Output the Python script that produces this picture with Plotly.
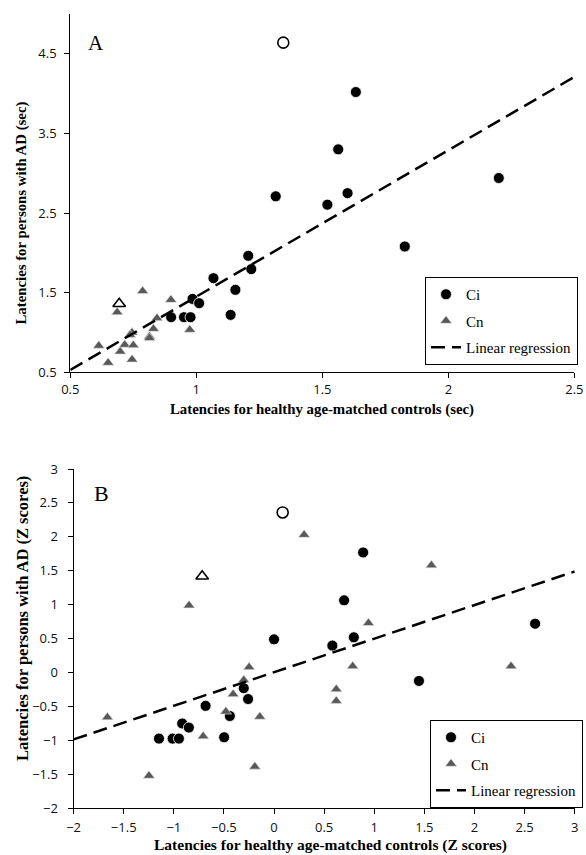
import plotly.graph_objects as go

# ---------------- Panel A (sec) ----------------
a_ci_x = [1.633, 1.563, 2.20, 1.60, 1.315, 1.52, 1.827, 1.206, 1.218, 1.068,
          1.155, 0.985, 1.011, 1.136, 0.90, 0.951, 0.977]
a_ci_y = [4.02, 3.30, 2.94, 2.75, 2.71, 2.605, 2.08, 1.963, 1.796, 1.682,
          1.536, 1.422, 1.368, 1.221, 1.192, 1.192, 1.192]
a_cn_x = [0.787, 0.899, 0.686, 0.844, 0.974, 0.83, 0.814, 0.814, 0.745, 0.737,
          0.613, 0.716, 0.75, 0.698, 0.745, 0.65]
a_cn_y = [1.52, 1.41, 1.255, 1.18, 1.034, 1.046, 0.95, 0.93, 1.0, 0.97,
          0.834, 0.846, 0.84, 0.76, 0.66, 0.62]
a_out_circle = ([1.345], [4.64])
a_out_triangle = ([0.694], [1.36])
a_reg_x = [0.5, 2.5]
a_reg_y = [0.53, 4.21]
a_xticks = [0.5, 1, 1.5, 2, 2.5]
a_yticks = [0.5, 1.5, 2.5, 3.5, 4.5]

# ---------------- Panel B (Z scores) ----------------
b_ci_x = [0.889, 0.699, 2.605, 0.796, 0.0, 0.582, 1.446, -0.302, -0.259, -0.683,
          -0.441, -0.916, -0.85, -1.148, -1.012, -0.949, -0.498]
b_ci_y = [1.77, 1.065, 0.72, 0.52, 0.49, 0.398, -0.123, -0.23, -0.39, -0.49,
          -0.64, -0.75, -0.81, -0.973, -0.973, -0.973, -0.953]
b_cn_x = [0.30, 1.57, -0.848, 0.942, -0.249, 0.785, 2.365, -0.302, -0.408, -0.481,
          -0.142, -1.663, -0.707, -0.192, -1.248, 0.621, 0.621]
b_cn_y = [2.03, 1.58, 0.99, 0.73, 0.08, 0.094, 0.094, -0.11, -0.318, -0.575,
          -0.65, -0.66, -0.94, -1.386, -1.52, -0.245, -0.417]
b_out_circle = ([0.086], [2.36])
b_out_triangle = ([-0.717], [1.42])
b_reg_x = [-2, 3]
b_reg_y = [-0.985, 1.49]
b_ticks = [-2, -1.5, -1, -0.5, 0, 0.5, 1, 1.5, 2, 2.5, 3]

W, H = 586, 855
SERIF = "Liberation Serif"
SANS = "Open Sans"
GRAY = "#595959"
DASH = "14px,7px"


def px(x):
    return x / W


def py(y):
    return 1 - y / H


fig = go.Figure()


def add_panel(xa, ya, legend, ci, cn, oc, ot, reg, csize, tsize):
    fig.add_trace(go.Scatter(
        x=ci[0], y=ci[1], mode="markers", name="Ci", xaxis=xa, yaxis=ya,
        legend=legend, legendgroup=legend + "ci",
        marker=dict(symbol="circle", size=csize, color="black",
                    line=dict(color="white", width=0.8))))
    fig.add_trace(go.Scatter(
        x=cn[0], y=cn[1], mode="markers", name="Cn", xaxis=xa, yaxis=ya,
        legend=legend, legendgroup=legend + "cn",
        marker=dict(symbol="triangle-up", size=tsize, color=GRAY,
                    line=dict(color="#e8e8e8", width=0.6))))
    fig.add_trace(go.Scatter(
        x=reg[0], y=reg[1], mode="lines", name="Linear regression",
        xaxis=xa, yaxis=ya, legend=legend, legendgroup=legend + "lr",
        line=dict(color="black", width=2.5, dash=DASH)))
    fig.add_trace(go.Scatter(
        x=oc[0], y=oc[1], mode="markers", showlegend=False, xaxis=xa, yaxis=ya,
        marker=dict(symbol="circle", size=csize, color="white",
                    line=dict(color="black", width=1.6))))
    fig.add_trace(go.Scatter(
        x=ot[0], y=ot[1], mode="markers", showlegend=False, xaxis=xa, yaxis=ya,
        marker=dict(symbol="triangle-up", size=tsize + 1, color="white",
                    line=dict(color="black", width=1.6))))


add_panel("x", "y", "legend", (a_ci_x, a_ci_y), (a_cn_x, a_cn_y),
          a_out_circle, a_out_triangle, (a_reg_x, a_reg_y), 11, 10)
add_panel("x2", "y2", "legend2", (b_ci_x, b_ci_y), (b_cn_x, b_cn_y),
          b_out_circle, b_out_triangle, (b_reg_x, b_reg_y), 11, 10)

axis_common = dict(showgrid=False, zeroline=False, showline=True,
                   linecolor="black", linewidth=1.2, ticks="outside",
                   ticklen=5, tickcolor="black", tickwidth=1.2,
                   tickfont=dict(family=SANS, size=13, color="#111"),
                   automargin=False)

legend_common = dict(bgcolor="white", bordercolor="black", borderwidth=1,
                     font=dict(family=SERIF, size=15, color="black"),
                     tracegroupgap=4, xanchor="left", yanchor="top",
                     itemsizing="trace")

fig.update_layout(
    width=W, height=H,
    margin=dict(l=0, r=0, t=0, b=0, autoexpand=False),
    paper_bgcolor="white", plot_bgcolor="white",
    xaxis=dict(axis_common, domain=[px(70.3), px(574.4)], range=[0.5, 2.5],
               tickvals=a_xticks, anchor="y", ticklabelstandoff=0),
    yaxis=dict(axis_common, domain=[py(372.3), py(14)], range=[0.5, 5.0],
               tickvals=a_yticks, anchor="x", ticklabelstandoff=5),
    xaxis2=dict(axis_common, domain=[px(73.6), px(574.7)], range=[-2, 3],
                tickvals=b_ticks, anchor="y2", ticklabelstandoff=2),
    yaxis2=dict(axis_common, domain=[py(808.3), py(469)], range=[-2, 3],
                tickvals=b_ticks, anchor="x2", ticklabelstandoff=7),
    legend=dict(legend_common, x=px(425), y=py(277)),
    legend2=dict(legend_common, x=px(430), y=py(720)),
    showlegend=True,
)

title_font = dict(family=SERIF, color="black")
annotations = [
    dict(text="A", x=px(96.4), y=py(43), font=dict(family=SERIF, size=21, color="black")),
    dict(text="B", x=px(101.6), y=py(494), font=dict(family=SERIF, size=22, color="black")),
    dict(text="<b>Latencies for healthy age-matched controls (sec)</b>",
         x=px(322), y=py(409), font=dict(title_font, size=14.8)),
    dict(text="<b>Latencies for persons with AD (sec)</b>",
         x=px(20.5), y=py(213), textangle=-90, font=dict(title_font, size=14.8)),
    dict(text="<b>Latencies for healthy age-matched controls (Z scores)</b>",
         x=px(330), y=py(845), font=dict(title_font, size=15.5)),
    dict(text="<b>Latencies for persons with AD (Z scores)</b>",
         x=px(22), y=py(619), textangle=-90, font=dict(title_font, size=16.5)),
]
for a in annotations:
    a.update(xref="paper", yref="paper", showarrow=False,
             xanchor="center", yanchor="middle")
fig.update_layout(annotations=annotations)

fig.write_html(
    "out.html",
    config={"displayModeBar": False},
    post_script="document.body.style.margin='0px';"
                "document.body.style.overflow='hidden';",
)
